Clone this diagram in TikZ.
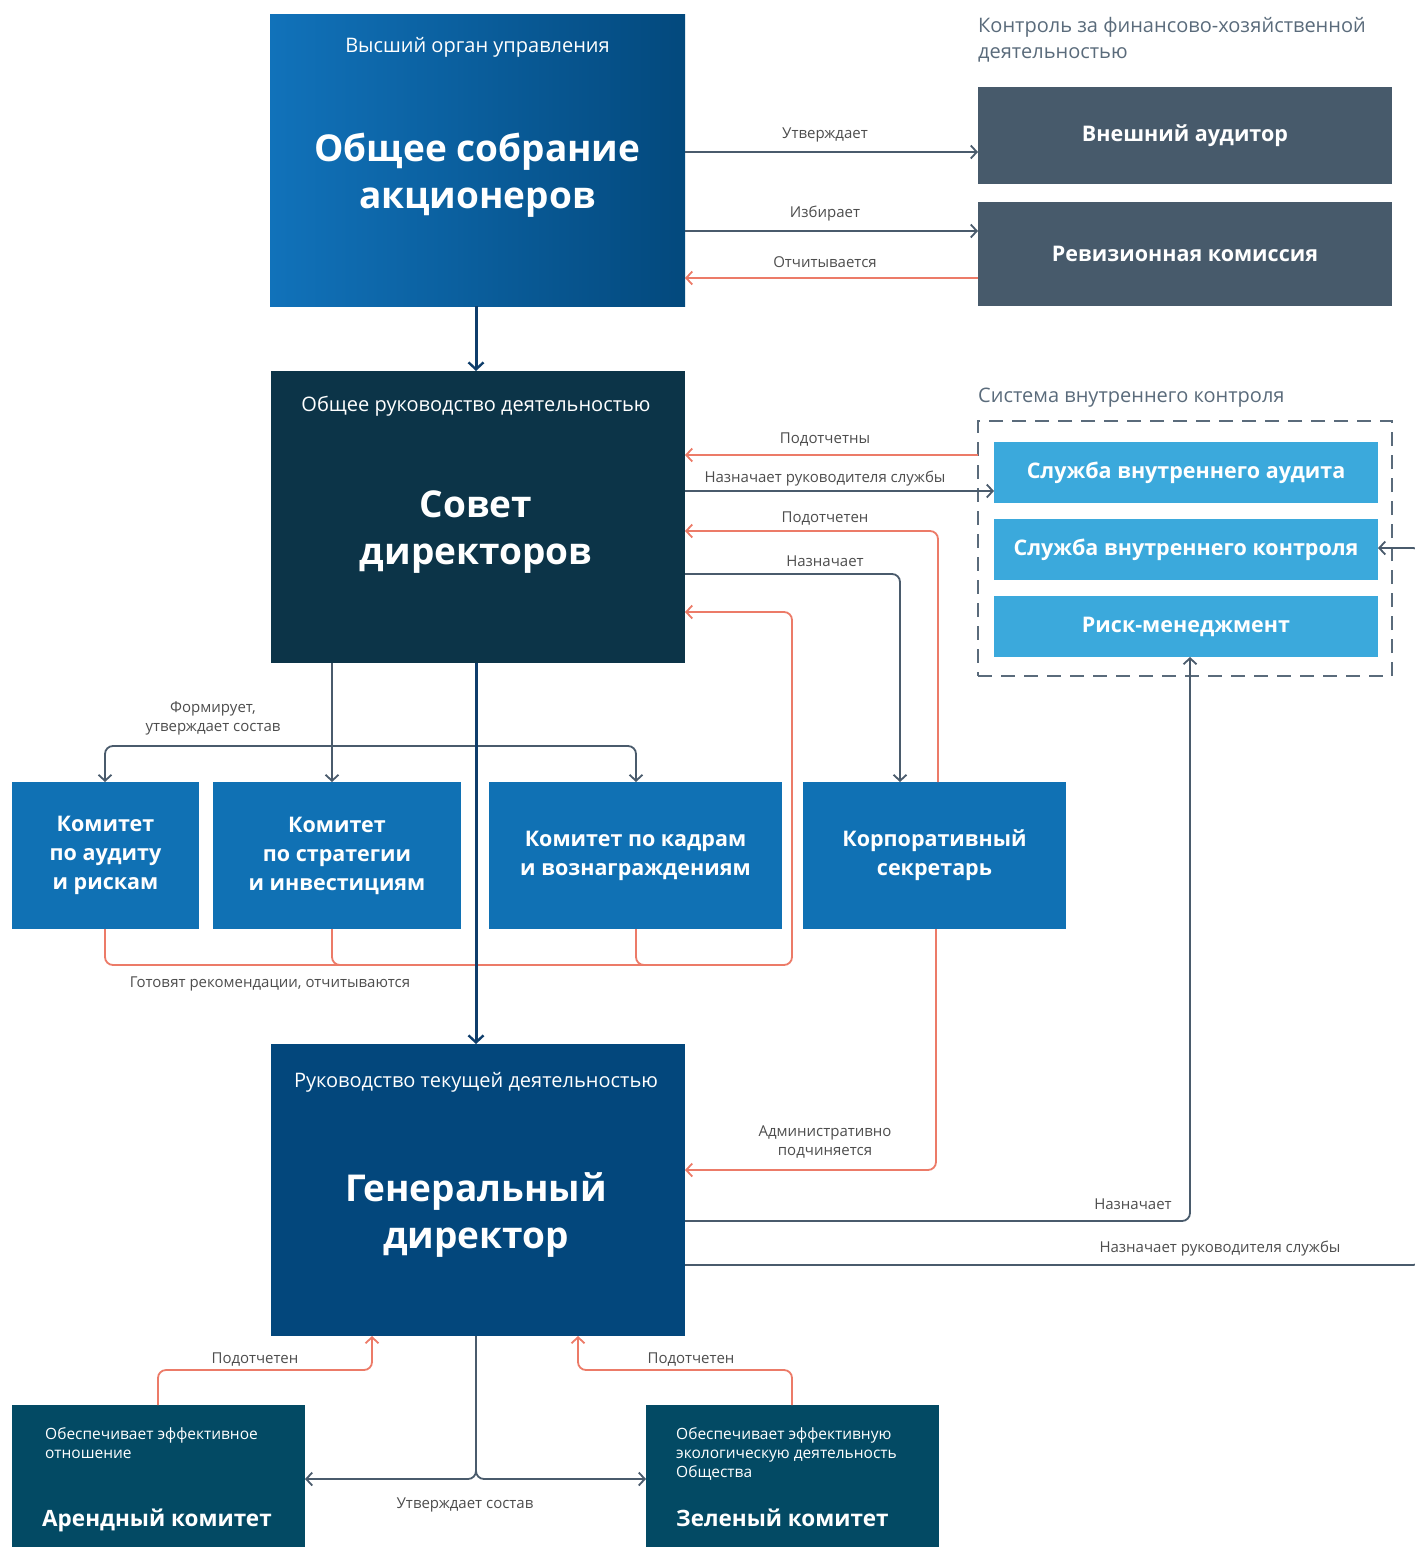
\documentclass[tikz,border=0pt]{standalone}
\usepackage{fontspec}
\setmainfont{Open Sans}
\usetikzlibrary{arrows.meta}
\definecolor{cgsmL}{HTML}{1172BA}
\definecolor{cgsmR}{HTML}{03497D}
\definecolor{cgrayb}{HTML}{475A6B}
\definecolor{csd}{HTML}{0C3448}
\definecolor{cgd}{HTML}{03477C}
\definecolor{ccom}{HTML}{1071B4}
\definecolor{csrv}{HTML}{3BA9DC}
\definecolor{cbot}{HTML}{034A64}
\definecolor{cline}{HTML}{4A5B6C}
\definecolor{csal}{HTML}{EC7B68}
\definecolor{cnavy}{HTML}{0E3D6B}
\definecolor{ctext}{HTML}{4D4D4D}
\definecolor{chead}{HTML}{5A6B7B}
\begin{document}
\begin{tikzpicture}[x=1pt,y=-1pt,
  box/.style={inner sep=0pt, outer sep=0pt, text=white, align=center, anchor=center},
  tip/.style={-{Straight Barb[length=6pt,width=13pt,line width=1.8pt]}},
  gl/.style={draw=cline, line width=1.8pt, rounded corners=8pt, tip},
  sl/.style={draw=csal, line width=1.8pt, rounded corners=8pt, tip},
  nl/.style={draw=cnavy, line width=3pt, -{Straight Barb[length=7pt,width=15pt,line width=2.4pt]}},
  lab/.style={font=\fontsize{15}{19}\selectfont, text=ctext, align=center, inner sep=0pt},
  sub/.style={font=\fontsize{20}{24}\selectfont, text=white, inner sep=0pt, anchor=base},
  ttl/.style={font=\bfseries\fontsize{37}{46}\selectfont, text=white, inner sep=0pt, anchor=base},
  cmt/.style={box, font=\bfseries\fontsize{21.5}{29}\selectfont},
  srv/.style={box, font=\bfseries\fontsize{21.5}{26}\selectfont},
  bsub/.style={font=\fontsize{15.5}{19}\selectfont, text=white, inner sep=0pt, anchor=base west},
  btl/.style={font=\bfseries\fontsize{22.5}{27}\selectfont, text=white, inner sep=0pt, anchor=base west},
  hdr/.style={font=\fontsize{20}{26}\selectfont, text=chead, inner sep=0pt, anchor=base west}
]
\useasboundingbox (0,0) rectangle (1415,1547);

% ---------- boxes ----------
\node[box, left color=cgsmL, right color=cgsmR, minimum width=415pt, minimum height=292pt] (gsm) at (477.5,160) {};
\node[box, fill=cgrayb, minimum width=414pt, minimum height=97pt, font=\bfseries\fontsize{21.5}{26}\selectfont] (aud) at (1185,135.5) {Внешний аудитор};
\node[box, fill=cgrayb, minimum width=414pt, minimum height=104pt, font=\bfseries\fontsize{21.5}{26}\selectfont] (rev) at (1185,254) {Ревизионная комиссия};
\node[box, fill=csd, minimum width=414pt, minimum height=292pt] (sd) at (478,517) {};
\node[box, draw=chead, line width=1.5pt, dash pattern=on 14pt off 9pt, minimum width=414pt, minimum height=255pt] (sik) at (1185,548.5) {};
\node[srv, fill=csrv, minimum width=384pt, minimum height=61pt] (sva) at (1186,472.5) {Служба внутреннего аудита};
\node[srv, fill=csrv, minimum width=384pt, minimum height=61pt] (svk) at (1186,549.5) {Служба внутреннего контроля};
\node[srv, fill=csrv, minimum width=384pt, minimum height=61pt] (rm) at (1186,626.5) {Риск-менеджмент};
\node[cmt, fill=ccom, minimum width=187pt, minimum height=147pt] (ka) at (105.5,855.5) {Комитет\\по аудиту\\и рискам};
\node[cmt, fill=ccom, minimum width=248pt, minimum height=147pt] (ks) at (337,855.5) {Комитет\\по стратегии\\и инвестициям};
\node[cmt, fill=ccom, minimum width=293pt, minimum height=147pt] (kk) at (635.5,855.5) {Комитет по кадрам\\и вознаграждениям};
\node[cmt, fill=ccom, minimum width=263pt, minimum height=147pt] (cs) at (934.5,855.5) {Корпоративный\\секретарь};
\node[box, fill=cgd, minimum width=414pt, minimum height=292pt] (gd) at (478,1190) {};
\node[box, fill=cbot, minimum width=293pt, minimum height=142pt] (ar) at (158.5,1476) {};
\node[box, fill=cbot, minimum width=293pt, minimum height=142pt] (zk) at (792.5,1476) {};

% ---------- texts inside big boxes ----------
\node[sub] (gsmS) at (477.5,52) {Высший орган управления};
\node[ttl] (gsmT1) at (477.5,161) {Общее собрание};
\node[ttl] (gsmT2) at (477.5,208) {акционеров};
\node[sub] (sdS) at (476,411) {Общее руководство деятельностью};
\node[ttl] (sdT1) at (476,517) {Совет};
\node[ttl] (sdT2) at (476,564) {директоров};
\node[sub] (gdS) at (476,1087) {Руководство текущей деятельностью};
\node[ttl] (gdT1) at (476,1201) {Генеральный};
\node[ttl] (gdT2) at (476,1248) {директор};

\node[bsub] (arS1) at (45,1439) {Обеспечивает эффективное};
\node[bsub] (arS2) at (45,1458) {отношение};
\node[btl] (arT) at (42,1526) {Арендный комитет};
\node[bsub] (zkS1) at (676,1439) {Обеспечивает эффективную};
\node[bsub] (zkS2) at (676,1458) {экологическую деятельность};
\node[bsub] (zkS3) at (676,1477) {Общества};
\node[btl] (zkT) at (676,1526) {Зеленый комитет};

\node[hdr] (h1) at (978,32) {Контроль за финансово-хозяйственной};
\node[hdr] (h2) at (978,58) {деятельностью};
\node[hdr] (h3) at (978,402) {Система внутреннего контроля};

% ---------- connectors ----------
\draw[gl] (gsm.east |- 0,152) -- (aud.west |- 0,152);
\draw[gl] (gsm.east |- 0,231) -- (rev.west |- 0,231);
\draw[sl] (rev.west |- 0,278) -- (gsm.east |- 0,278);
\draw[nl] (gsm.south -| 476,0) -- (sd.north -| 476,0);

\draw[sl] (sik.west |- 0,455) -- (sd.east |- 0,455);
\draw[gl] (sd.east |- 0,491) -- (sva.west |- 0,491);
\draw[sl] (cs.north -| 938,0) |- (sd.east |- 0,531);
\draw[gl] (sd.east |- 0,574) -| (cs.north -| 900,0);

\draw[sl] (ka.south -| 105,0) |- (792,965) |- (sd.east |- 0,612);
\draw[draw=csal, line width=1.8pt, rounded corners=8pt] (ks.south -| 332,0) |- (520,965);
\draw[draw=csal, line width=1.8pt, rounded corners=8pt] (kk.south -| 636,0) |- (740,965);

\draw[gl] (sd.south -| 332,0) -- (ks.north -| 332,0);
\draw[gl, {Straight Barb[length=6pt,width=13pt,line width=1.8pt]}-{Straight Barb[length=6pt,width=13pt,line width=1.8pt]}] (ka.north -| 105,0) |- (400,746) -| (kk.north -| 636,0);

\draw[nl] (sd.south -| 476,0) -- (gd.north -| 476,0);

\draw[sl] (cs.south -| 936,0) |- (gd.east |- 0,1170);
\draw[gl] (gd.east |- 0,1221) -| (rm.south -| 1190,0);
\draw[gl] (gd.east |- 0,1265) -| (1421,548) -- (svk.east |- 0,548);

\draw[gl] (gd.south -| 476,0) |- (ar.east |- 0,1479);
\draw[gl] (gd.south -| 476,0) |- (zk.west |- 0,1479);
\draw[sl] (ar.north -| 158,0) |- (265,1370) -| (gd.south -| 372,0);
\draw[sl] (zk.north -| 792,0) |- (690,1370) -| (gd.south -| 578,0);

% ---------- labels ----------
\node[lab] (l1) at (825,135) {Утверждает};
\node[lab] (l2) at (825,214) {Избирает};
\node[lab] (l3) at (825,262) {Отчитывается};
\node[lab] (l4) at (825,440) {Подотчетны};
\node[lab] (l5) at (825,479) {Назначает руководителя службы};
\node[lab] (l6) at (825,519) {Подотчетен};
\node[lab] (l7) at (825,561) {Назначает};
\node[lab] (l8) at (213,718) {Формирует,\\утверждает состав};
\node[lab] (l9) at (270,984) {Готовят рекомендации, отчитываются};
\node[lab] (l10) at (825,1142) {Административно\\подчиняется};
\node[lab] (l11) at (1133,1204) {Назначает};
\node[lab] (l12) at (1220,1249) {Назначает руководителя службы};
\node[lab] (l13) at (255,1360) {Подотчетен};
\node[lab] (l14) at (691,1360) {Подотчетен};
\node[lab] (l15) at (465,1505) {Утверждает состав};
\end{tikzpicture}
\end{document}
